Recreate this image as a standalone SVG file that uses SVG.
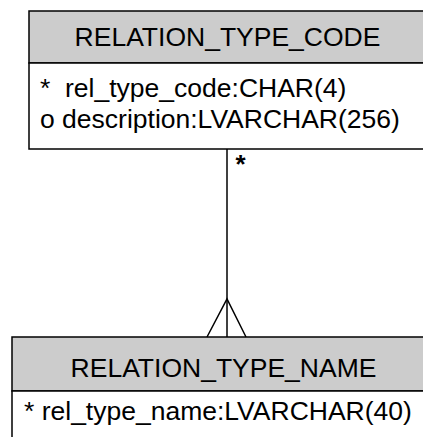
<svg xmlns="http://www.w3.org/2000/svg" width="423" height="437" viewBox="0 0 423 437">
<style>
.box{fill:#fff;stroke:#000;stroke-width:1.5}
.hdr{fill:#cccccc;stroke:#000;stroke-width:1.5}
.t{font-family:"Liberation Sans",Arial,sans-serif;font-size:26.5px;fill:#000}
.card{font-family:"Liberation Sans",Arial,sans-serif;font-size:26px;font-weight:bold;fill:#000}
.ln{stroke:#000;stroke-width:1.5;fill:none}
</style>
<rect width="423" height="437" fill="#fff"/>
<g id="relation_type_code">
<rect class="hdr" x="29" y="11" width="420" height="52"/>
<rect class="box" x="29" y="63" width="420" height="86"/>
<text class="t" x="227.5" y="46" text-anchor="middle">RELATION_TYPE_CODE</text>
<text class="t" x="40" y="97" xml:space="preserve">*  rel_type_code:CHAR(4)</text>
<text class="t" x="40" y="128">o description:LVARCHAR(256)</text>
</g>
<g id="relation_type_name">
<rect class="hdr" x="12" y="337" width="430" height="54"/>
<rect class="box" x="12" y="391" width="430" height="60"/>
<text class="t" x="223.5" y="377" text-anchor="middle">RELATION_TYPE_NAME</text>
<text class="t" x="24" y="420">* rel_type_name:LVARCHAR(40)</text>
</g>
<g id="connectors">
<line class="ln" x1="227" y1="149" x2="227" y2="337"/>
<polyline class="ln" points="207,337 227,299 246,337"/>
<text class="card" x="235.5" y="173">*</text>
</g>
</svg>
